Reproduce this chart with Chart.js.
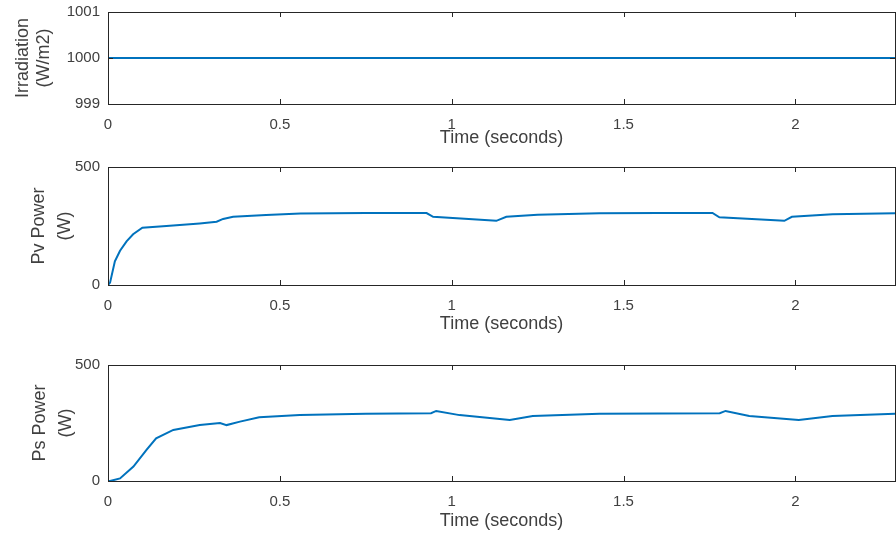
<!DOCTYPE html>
<html>
<head>
<meta charset="utf-8">
<script src="https://cdn.jsdelivr.net/npm/chart.js@4.4.0/dist/chart.umd.min.js"></script>
<style>
  body { margin: 0; background: #fff; }
  .panel { position: absolute; left: 0; width: 896px; }
</style>
</head>
<body>
<div class="panel" style="top:0;height:150px"><canvas id="irrChart"></canvas></div>
<div class="panel" style="top:150px;height:190px"><canvas id="pvChart"></canvas></div>
<div class="panel" style="top:340px;height:195px"><canvas id="psChart"></canvas></div>
<script>
const timeTicks = [0, 0.5, 1, 1.5, 2];
const irrTicks = [999, 1000, 1001];
const powerTicks = [0, 500];

const irrTime = [0, 2.29];
const irrValues = [1000, 1000];

const pvTime = [0, 0.006, 0.02, 0.035, 0.054, 0.073, 0.1, 0.17, 0.267, 0.316, 0.335, 0.364, 0.46, 0.56, 0.75,
  0.927, 0.946, 1.13, 1.159, 1.25, 1.43, 1.6, 1.759, 1.779, 1.968, 1.99, 2.108, 2.29];
const pvValues = [0, 10, 100, 145, 185, 215, 243, 250, 261, 268, 280, 289, 297, 303, 305,
  305, 289, 272, 289, 298, 304, 305, 305, 287, 272, 289, 300, 304];

const psTime = [0, 0.006, 0.035, 0.074, 0.112, 0.14, 0.19, 0.267, 0.326, 0.345, 0.384, 0.44, 0.558, 0.75,
  0.94, 0.955, 1.023, 1.169, 1.236, 1.43, 1.6, 1.78, 1.797, 1.866, 2.01, 2.108, 2.29];
const psValues = [0, 0, 11, 62, 134, 184, 220, 241, 250, 241, 256, 275, 284, 290,
  292, 302, 284, 263, 280, 290, 291, 292, 302, 280, 263, 280, 290];

const FONT = "'Liberation Sans', Arial, sans-serif";
const TEXT = '#404040';

// MATLAB style box with inward tick marks
const matlabBox = {
  id: 'matlabBox',
  afterDatasetsDraw(chart) {
    const { ctx, chartArea: a, scales } = chart;
    ctx.save();
    ctx.strokeStyle = '#262626';
    ctx.lineWidth = 1;
    ctx.beginPath();
    scales.x.ticks.forEach(t => {
      const px = Math.round(scales.x.getPixelForValue(t.value)) + 0.5;
      ctx.moveTo(px, a.bottom); ctx.lineTo(px, a.bottom - 5);
      ctx.moveTo(px, a.top); ctx.lineTo(px, a.top + 5);
    });
    scales.y.ticks.forEach(t => {
      const py = Math.round(scales.y.getPixelForValue(t.value)) + 0.5;
      ctx.moveTo(a.left, py); ctx.lineTo(a.left + 5, py);
      ctx.moveTo(a.right, py); ctx.lineTo(a.right - 5, py);
    });
    ctx.stroke();
    ctx.strokeRect(Math.round(a.left) + 0.5, Math.round(a.top) + 0.5,
      Math.round(a.right - a.left), Math.round(a.bottom - a.top));
    ctx.restore();
  }
};

function makeChart(id, time, values, yMin, yMax, yTicks, yTitle, g) {
  const points = time.map((t, i) => ({ x: t, y: values[i] }));
  return new Chart(document.getElementById(id), {
    type: 'line',
    data: {
      datasets: [{
        data: points,
        borderColor: '#0072BD',
        borderWidth: 2,
        pointRadius: 0,
        tension: 0
      }]
    },
    options: {
      responsive: true,
      maintainAspectRatio: false,
      animation: false,
      layout: { padding: { top: g.top, right: 1, left: 0, bottom: 0 } },
      plugins: { legend: { display: false }, tooltip: { enabled: false } },
      scales: {
        x: {
          type: 'linear',
          min: 0,
          max: 2.29,
          afterBuildTicks: s => { s.ticks = timeTicks.map(v => ({ value: v })); },
          afterFit: s => { s.height = g.xh; s.paddingLeft = 0; s.paddingRight = 0; },
          grid: { display: false, drawTicks: false, tickLength: 0 },
          border: { display: false },
          ticks: {
            autoSkip: false, maxRotation: 0, padding: 12, color: TEXT,
            font: { family: FONT, size: 15 },
            callback: v => String(v)
          },
          title: {
            display: true, text: 'Time (seconds)', color: TEXT,
            font: { family: FONT, size: 18, lineHeight: 1.2 },
            padding: { top: 0, bottom: g.xtp }
          }
        },
        y: {
          min: yMin,
          max: yMax,
          afterBuildTicks: s => { s.ticks = yTicks.map(v => ({ value: v })); },
          afterFit: s => { s.width = 108; s.paddingTop = 0; s.paddingBottom = 0; },
          grid: { display: false, drawTicks: false, tickLength: 0 },
          border: { display: false },
          ticks: {
            padding: 8, color: TEXT,
            font: { family: FONT, size: 15 },
            callback: v => String(v)
          },
          title: {
            display: true, text: yTitle, color: TEXT,
            font: { family: FONT, size: 18, lineHeight: g.ylh },
            padding: { top: g.ytp, bottom: 0 }
          }
        }
      }
    },
    plugins: [matlabBox]
  });
}

makeChart('irrChart', irrTime, irrValues, 999, 1001, irrTicks, ['Irradiation', '(W/m2)'],
  { top: 12, xh: 46, xtp: 1, ylh: 1.2, ytp: 12 });
makeChart('pvChart', pvTime, pvValues, 0, 500, powerTicks, ['Pv Power', '(W)'],
  { top: 17, xh: 55, xtp: 5, ylh: 1.45, ytp: 25.5 });
makeChart('psChart', psTime, psValues, 0, 500, powerTicks, ['Ps Power', '(W)'],
  { top: 25, xh: 54, xtp: 3, ylh: 1.45, ytp: 27 });
</script>
</body>
</html>
